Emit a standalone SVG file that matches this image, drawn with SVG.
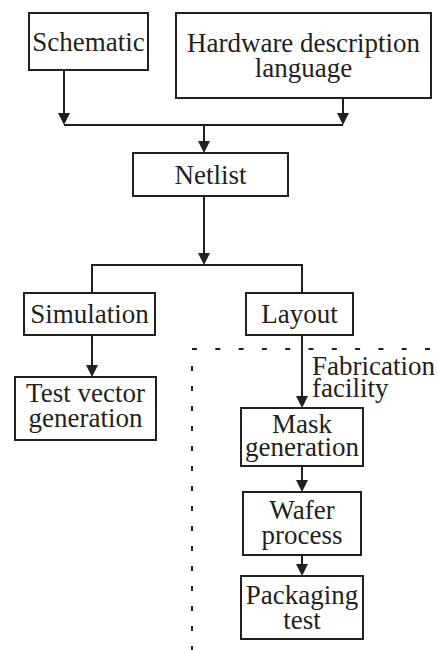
<svg xmlns="http://www.w3.org/2000/svg" width="438" height="650" viewBox="0 0 438 650">
  <style>
    .box { fill: #ffffff; stroke: #231f20; stroke-width: 2; }
    .lbl { font-size: 27px; fill: #231f20; text-anchor: middle; }
    .side { text-anchor: start; }
    .wire { fill: none; stroke: #231f20; stroke-width: 2; }
    .arrow { marker-end: url(#head); }
    .bound { fill: none; stroke: #231f20; stroke-width: 2; }
  </style>
  <defs>
    <marker id="head" viewBox="0 0 12 12" refX="6" refY="6" markerWidth="12" markerHeight="12" markerUnits="userSpaceOnUse" orient="auto">
      <path d="M0,0 L12,6 L0,12 Z" fill="#231f20"/>
    </marker>
  </defs>
  <rect width="438" height="650" fill="#ffffff"/>

  <!-- fabrication facility boundary -->
  <g id="facility-boundary">
    <path class="bound" d="M192,349 H438" stroke-dasharray="5 18.3"/>
    <path class="bound" d="M192,366 V650" stroke-dasharray="5 15"/>
  </g>

  <g id="connectors">
    <path class="wire arrow" d="M64,70 V119"/>
    <path class="wire arrow" d="M343,98 V119"/>
    <path class="wire" d="M64,125 H343"/>
    <path class="wire arrow" d="M204,125 V147"/>
    <path class="wire arrow" d="M204,196 V259"/>
    <path class="wire" d="M92,265 H302 M92,264 V293 M302,264 V293"/>
    <path class="wire arrow" d="M92,335 V371"/>
    <path class="wire arrow" d="M302,335 V402"/>
    <path class="wire arrow" d="M302,466 V486"/>
    <path class="wire arrow" d="M302,555 V570"/>
  </g>

  <g font-family="'Liberation Serif', 'DejaVu Serif', serif">
    <g id="facility-label">
      <text class="lbl side" x="312" y="375">Fabrication</text>
      <text class="lbl side" x="312" y="397">facility</text>
    </g>
    <g id="schematic">
      <rect class="box" x="29" y="13" width="119" height="57"/>
      <text class="lbl" x="88.5" y="51">Schematic</text>
    </g>
    <g id="hdl">
      <rect class="box" x="176" y="13" width="255" height="85"/>
      <text class="lbl" x="303.5" y="52">Hardware description</text>
      <text class="lbl" x="303.5" y="77">language</text>
    </g>
    <g id="netlist">
      <rect class="box" x="133" y="153" width="155" height="43"/>
      <text class="lbl" x="210.5" y="184">Netlist</text>
    </g>
    <g id="simulation">
      <rect class="box" x="24" y="293" width="131" height="42"/>
      <text class="lbl" x="89.5" y="323">Simulation</text>
    </g>
    <g id="layout">
      <rect class="box" x="246" y="293" width="107" height="42"/>
      <text class="lbl" x="299.5" y="323">Layout</text>
    </g>
    <g id="test-vector">
      <rect class="box" x="15" y="377" width="141" height="63"/>
      <text class="lbl" x="85.5" y="402">Test vector</text>
      <text class="lbl" x="85.5" y="427">generation</text>
    </g>
    <g id="mask">
      <rect class="box" x="241" y="408" width="122" height="58"/>
      <text class="lbl" x="302" y="433">Mask</text>
      <text class="lbl" x="302" y="456">generation</text>
    </g>
    <g id="wafer">
      <rect class="box" x="243" y="492" width="118" height="63"/>
      <text class="lbl" x="302" y="519">Wafer</text>
      <text class="lbl" x="302" y="544">process</text>
    </g>
    <g id="packaging">
      <rect class="box" x="241" y="576" width="122" height="63"/>
      <text class="lbl" x="302" y="604">Packaging</text>
      <text class="lbl" x="302" y="629">test</text>
    </g>
  </g>
</svg>
